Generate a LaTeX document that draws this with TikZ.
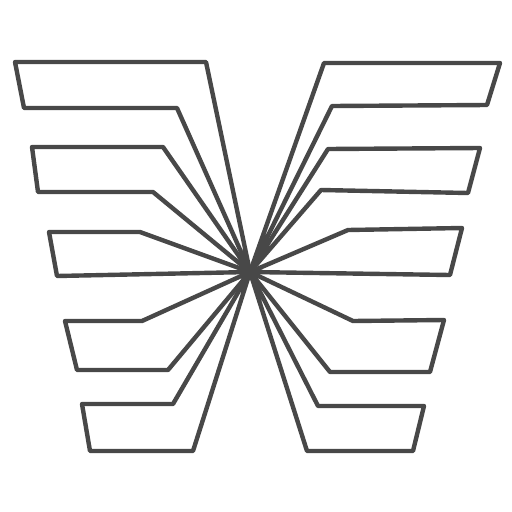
\documentclass[tikz,border=0pt]{standalone}
\begin{document}
\begin{tikzpicture}[x=1pt,y=-1pt,
  stroke/.style={draw=ink,line width=4.4pt,line join=round,line cap=round}]
\definecolor{ink}{HTML}{484848}
\useasboundingbox (0,0) rectangle (512,512);
\coordinate (C) at (250,272);
% left side
\draw[stroke] (C) -- (206,62) -- (15,62) -- (24,108) -- (177,108) -- (C);
\draw[stroke] (C) -- (163,147) -- (32,147) -- (38,192) -- (153,192) -- (C);
\draw[stroke] (C) -- (140,232) -- (49,232) -- (57,276) -- (C);
\draw[stroke] (C) -- (142,321) -- (65,321) -- (77,370) -- (168,370) -- (C);
\draw[stroke] (C) -- (173,404) -- (82,404) -- (90,451) -- (193,451) -- (C);
% right side
\draw[stroke] (C) -- (324,63) -- (500,63) -- (487,105) -- (332,106) -- (C);
\draw[stroke] (C) -- (328,149) -- (480,148) -- (468,193) -- (321,190) -- (C);
\draw[stroke] (C) -- (348,230) -- (462,228) -- (450,275) -- (C);
\draw[stroke] (C) -- (353,321) -- (444,320) -- (430,372) -- (330,372) -- (C);
\draw[stroke] (C) -- (318,406) -- (424,406) -- (413,451) -- (307,451) -- (C);
\fill[ink] (C) circle (7pt);
\end{tikzpicture}
\end{document}
